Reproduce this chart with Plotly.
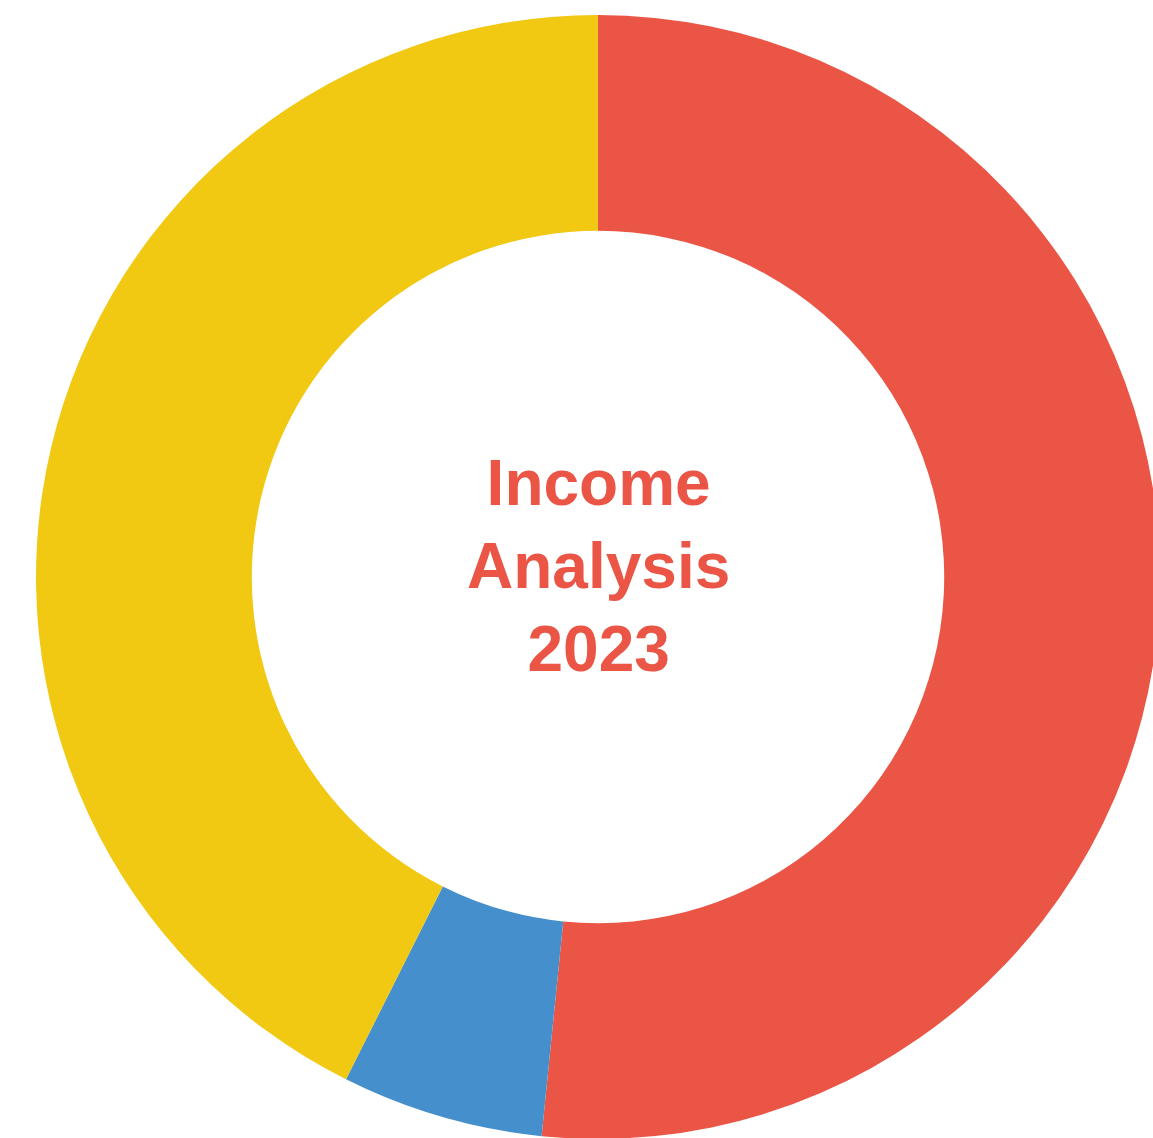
import plotly.graph_objects as go

categories = ["Salary", "Investments", "Freelance"]
values = [51.6, 5.8, 42.6]
colors = ["#EA5545", "#458FCD", "#F1C812"]
center_text = ["Income", "Analysis", "2023"]

fig = go.Figure(
    go.Pie(
        labels=categories,
        values=values,
        hole=0.616,
        sort=False,
        direction="clockwise",
        rotation=0,
        marker=dict(colors=colors, line=dict(width=0)),
        textinfo="none",
        hoverinfo="label+percent",
    )
)

fig.add_annotation(
    text="<b>" + "<br>".join(center_text) + "</b>",
    x=0.5, y=0.5, xref="paper", yref="paper",
    yshift=11,
    showarrow=False,
    font=dict(family="Liberation Sans, Arial, sans-serif", size=64, color="#EA5545"),
)

fig.update_layout(
    width=1196,
    height=1154,
    margin=dict(l=8, r=8, t=15, b=15),
    showlegend=False,
    paper_bgcolor="white",
    plot_bgcolor="white",
)

fig.write_html(
    "out.html",
    config={"displayModeBar": False},
    post_script=(
        "document.documentElement.style.overflow='hidden';"
        "document.body.style.overflow='hidden';"
        "document.body.style.margin='0';"
    ),
)
